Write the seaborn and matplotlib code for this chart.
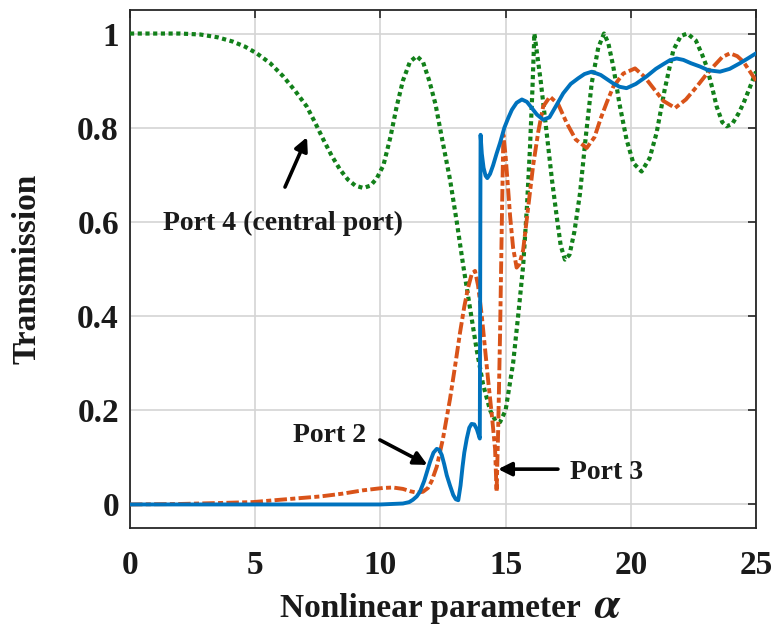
import numpy as np
import pandas as pd
import matplotlib
matplotlib.use("Agg")
import matplotlib.pyplot as plt
import seaborn as sns

# ---------------- data ----------------
port4_alpha = [0, 1, 2, 2.8, 3.5, 4.1, 4.6, 5.06, 5.6, 6.12, 6.6, 7.06, 7.4, 7.72, 8.05,
               8.39, 8.7, 9.0, 9.32, 9.6, 9.85, 10.12, 10.4, 10.65, 10.9, 11.18, 11.45,
               11.7, 11.95, 12.2, 12.45, 12.78, 13.05, 13.3, 13.57, 13.84, 14.1, 14.38,
               14.6, 14.78, 15.0, 15.3, 15.5, 15.7, 15.85, 15.97, 16.07, 16.15, 16.25,
               16.4, 16.64, 16.85, 17.04, 17.2, 17.37, 17.55, 17.75, 17.97, 18.2, 18.44,
               18.7, 18.93, 19.1, 19.3, 19.55, 19.83, 20.1, 20.43, 20.75, 21.03, 21.35,
               21.7, 22.0, 22.26, 22.6, 22.85, 23.03, 23.25, 23.43, 23.65, 23.83, 24.05,
               24.3, 24.5, 24.75, 25]
port4_T = [1, 1, 1, 0.998, 0.992, 0.983, 0.972, 0.958, 0.937, 0.909, 0.878, 0.845, 0.81,
           0.775, 0.741, 0.711, 0.69, 0.677, 0.672, 0.677, 0.692, 0.72, 0.78, 0.845, 0.9,
           0.94, 0.952, 0.94, 0.9, 0.85, 0.78, 0.69, 0.6, 0.51, 0.42, 0.33, 0.255, 0.2,
           0.177, 0.175, 0.2, 0.3, 0.4, 0.506, 0.63, 0.753, 0.88, 1.0, 0.96, 0.9, 0.789,
           0.69, 0.612, 0.55, 0.52, 0.53, 0.58, 0.66, 0.78, 0.895, 0.97, 1.0, 0.98, 0.93,
           0.85, 0.775, 0.725, 0.707, 0.735, 0.789, 0.88, 0.965, 0.995, 1.0, 0.985, 0.955,
           0.93, 0.885, 0.845, 0.812, 0.803, 0.808, 0.83, 0.852, 0.885, 0.919]

port2_alpha = [0, 5, 10, 10.9, 11.15, 11.3, 11.45, 11.58, 11.75, 11.98, 12.12, 12.25,
               12.35, 12.45, 12.55, 12.65, 12.78, 12.91, 13.01, 13.11, 13.2, 13.28, 13.35,
               13.45, 13.55, 13.64, 13.75, 13.85, 13.97, 14.0, 14.05, 14.12, 14.2, 14.27,
               14.38, 14.5, 14.64, 14.78, 14.95, 15.1, 15.25, 15.44, 15.65, 15.85, 16.0,
               16.25, 16.5, 16.75, 17.0, 17.3, 17.6, 17.9, 18.15, 18.44, 18.8, 19.05,
               19.3, 19.55, 19.83, 20.2, 20.63, 21.0, 21.3, 21.55, 21.83, 22.1, 22.4,
               22.76, 23.1, 23.56, 23.95, 24.36, 24.7, 25]
port2_T = [0, 0, 0, 0.002, 0.005, 0.01, 0.017, 0.027, 0.05, 0.09, 0.11, 0.118, 0.116,
           0.105, 0.085, 0.062, 0.04, 0.02, 0.011, 0.009, 0.04, 0.08, 0.11, 0.14, 0.163,
           0.171, 0.17, 0.16, 0.14, 0.785, 0.745, 0.715, 0.698, 0.693, 0.702, 0.72,
           0.745, 0.768, 0.8, 0.82, 0.838, 0.853, 0.86, 0.855, 0.845, 0.828, 0.817,
           0.822, 0.845, 0.873, 0.893, 0.905, 0.914, 0.919, 0.912, 0.903, 0.894, 0.887,
           0.884, 0.893, 0.909, 0.925, 0.935, 0.943, 0.947, 0.944, 0.937, 0.93, 0.922,
           0.919, 0.925, 0.937, 0.948, 0.958]

port3_alpha = [0, 2, 3.5, 4.9, 6, 7.6, 8.5, 9.3, 10.1, 10.5, 10.9, 11.2, 11.45, 11.7,
               11.9, 12.05, 12.25, 12.5, 12.78, 13.0, 13.18, 13.35, 13.5, 13.65, 13.78,
               13.9, 14.05, 14.18, 14.31, 14.45, 14.58, 14.64, 14.7, 14.78, 14.85, 14.91,
               15.0, 15.1, 15.18, 15.3, 15.44, 15.55, 15.7, 15.9, 16.1, 16.3, 16.5, 16.77,
               17.1, 17.44, 17.8, 18.24, 18.55, 18.8, 19.05, 19.3, 19.7, 20.17, 20.55,
               20.9, 21.3, 21.77, 22.2, 22.63, 23.0, 23.3, 23.65, 23.96, 24.25, 24.5,
               24.75, 25]
port3_T = [0, 0.001, 0.003, 0.005, 0.01, 0.017, 0.023, 0.03, 0.035, 0.036, 0.033, 0.028,
           0.025, 0.027, 0.035, 0.05, 0.08, 0.14, 0.224, 0.3, 0.365, 0.42, 0.46, 0.49,
           0.496, 0.465, 0.40, 0.33, 0.26, 0.19, 0.118, 0.027, 0.15, 0.366, 0.6, 0.785,
           0.74, 0.67, 0.612, 0.545, 0.503, 0.51, 0.54, 0.63, 0.72, 0.79, 0.845, 0.866,
           0.85, 0.81, 0.775, 0.757, 0.78, 0.82, 0.855, 0.887, 0.915, 0.926, 0.908,
           0.884, 0.857, 0.842, 0.86, 0.887, 0.912, 0.93, 0.95, 0.958, 0.952, 0.94,
           0.92, 0.90]

x_ticks = [0, 5, 10, 15, 20, 25]
y_ticks = [0, 0.2, 0.4, 0.6, 0.8, 1.0]
y_tick_labels = ["0", "0.2", "0.4", "0.6", "0.8", "1"]

# ---------------- style ----------------
sns.set_theme(style="white")
plt.rcParams["font.family"] = ["Liberation Serif", "DejaVu Serif"]
plt.rcParams["font.weight"] = "bold"
plt.rcParams["axes.labelweight"] = "bold"
plt.rcParams["mathtext.fontset"] = "stix"

BLUE = "#0072BD"
ORANGE = "#D95319"
GREEN = "#12801a"
TXT = "#1a1a1a"

fig = plt.figure(figsize=(7.8, 6.32), dpi=100)
ax = fig.add_axes([130 / 780, 1 - 528 / 632, (756 - 130) / 780, (528 - 10) / 632])

df4 = pd.DataFrame({"alpha": port4_alpha, "T": port4_T})
df2 = pd.DataFrame({"alpha": port2_alpha, "T": port2_T})
df3 = pd.DataFrame({"alpha": port3_alpha, "T": port3_T})

lw = 2.8
sns.lineplot(data=df4, x="alpha", y="T", ax=ax, color=GREEN, lw=3.0,
             linestyle=(0, (1.0, 0.85)), sort=False, estimator=None, zorder=3)
sns.lineplot(data=df3, x="alpha", y="T", ax=ax, color=ORANGE, lw=lw,
             linestyle=(0, (3.2, 0.85, 1.3, 0.85)), sort=False, estimator=None, zorder=4)
sns.lineplot(data=df2, x="alpha", y="T", ax=ax, color=BLUE, lw=lw,
             linestyle="-", sort=False, estimator=None, zorder=5)
for ln in ax.get_lines():
    ln.set_solid_joinstyle("round")
    ln.set_dash_joinstyle("round")

ax.set_xlim(0, 25)
ax.set_ylim(-0.05, 1.05)
ax.set_xticks(x_ticks)
ax.set_xticklabels([str(t) for t in x_ticks])
ax.set_yticks(y_ticks)
ax.set_yticklabels(y_tick_labels)

ax.grid(True, color="#d4d4d4", lw=1.2)
ax.set_axisbelow(True)
for sp in ax.spines.values():
    sp.set_color("#262626")
    sp.set_linewidth(1.3)
ax.tick_params(direction="in", length=6, width=1.2, top=True, right=True,
               colors="#262626", labelsize=24, labelcolor=TXT)
ax.tick_params(axis="x", pad=16)
ax.tick_params(axis="y", pad=8)
for lab in ax.get_xticklabels() + ax.get_yticklabels():
    lab.set_fontweight("bold")

# x label: words + a larger italic alpha
ax.set_xlabel("Nonlinear parameter", fontsize=24, fontweight="bold", color=TXT)
ax.xaxis.label.set_va("baseline")
ax.xaxis.set_label_coords((430.5 - 130) / 626, (528 - 617) / 518)
ax.text((594 - 130) / 626, (528 - 617) / 518, r"$\alpha$", transform=ax.transAxes,
        fontsize=32, ha="left", va="baseline", color=TXT)

ax.set_ylabel("Transmission", fontsize=24, fontweight="bold", color=TXT, labelpad=25)

# ---------------- annotations ----------------
arrow_kw = dict(arrowstyle="-|>", color="black", lw=2.6, mutation_scale=20,
                shrinkA=0, shrinkB=0)
ax.text(1.32, 0.583, "Port 4 (central port)", fontsize=20, fontweight="bold",
        ha="left", va="baseline", color=TXT)
ax.annotate("", xy=(7.07, 0.780), xytext=(6.19, 0.674), arrowprops=arrow_kw)

ax.text(6.51, 0.133, "Port 2", fontsize=20, fontweight="bold",
        ha="left", va="baseline", color=TXT)
ax.annotate("", xy=(11.88, 0.084), xytext=(9.98, 0.137), arrowprops=arrow_kw)

ax.text(17.57, 0.054, "Port 3", fontsize=20, fontweight="bold",
        ha="left", va="baseline", color=TXT)
ax.annotate("", xy=(14.70, 0.075), xytext=(17.09, 0.075), arrowprops=arrow_kw)

fig.savefig("out.png", dpi=100)
